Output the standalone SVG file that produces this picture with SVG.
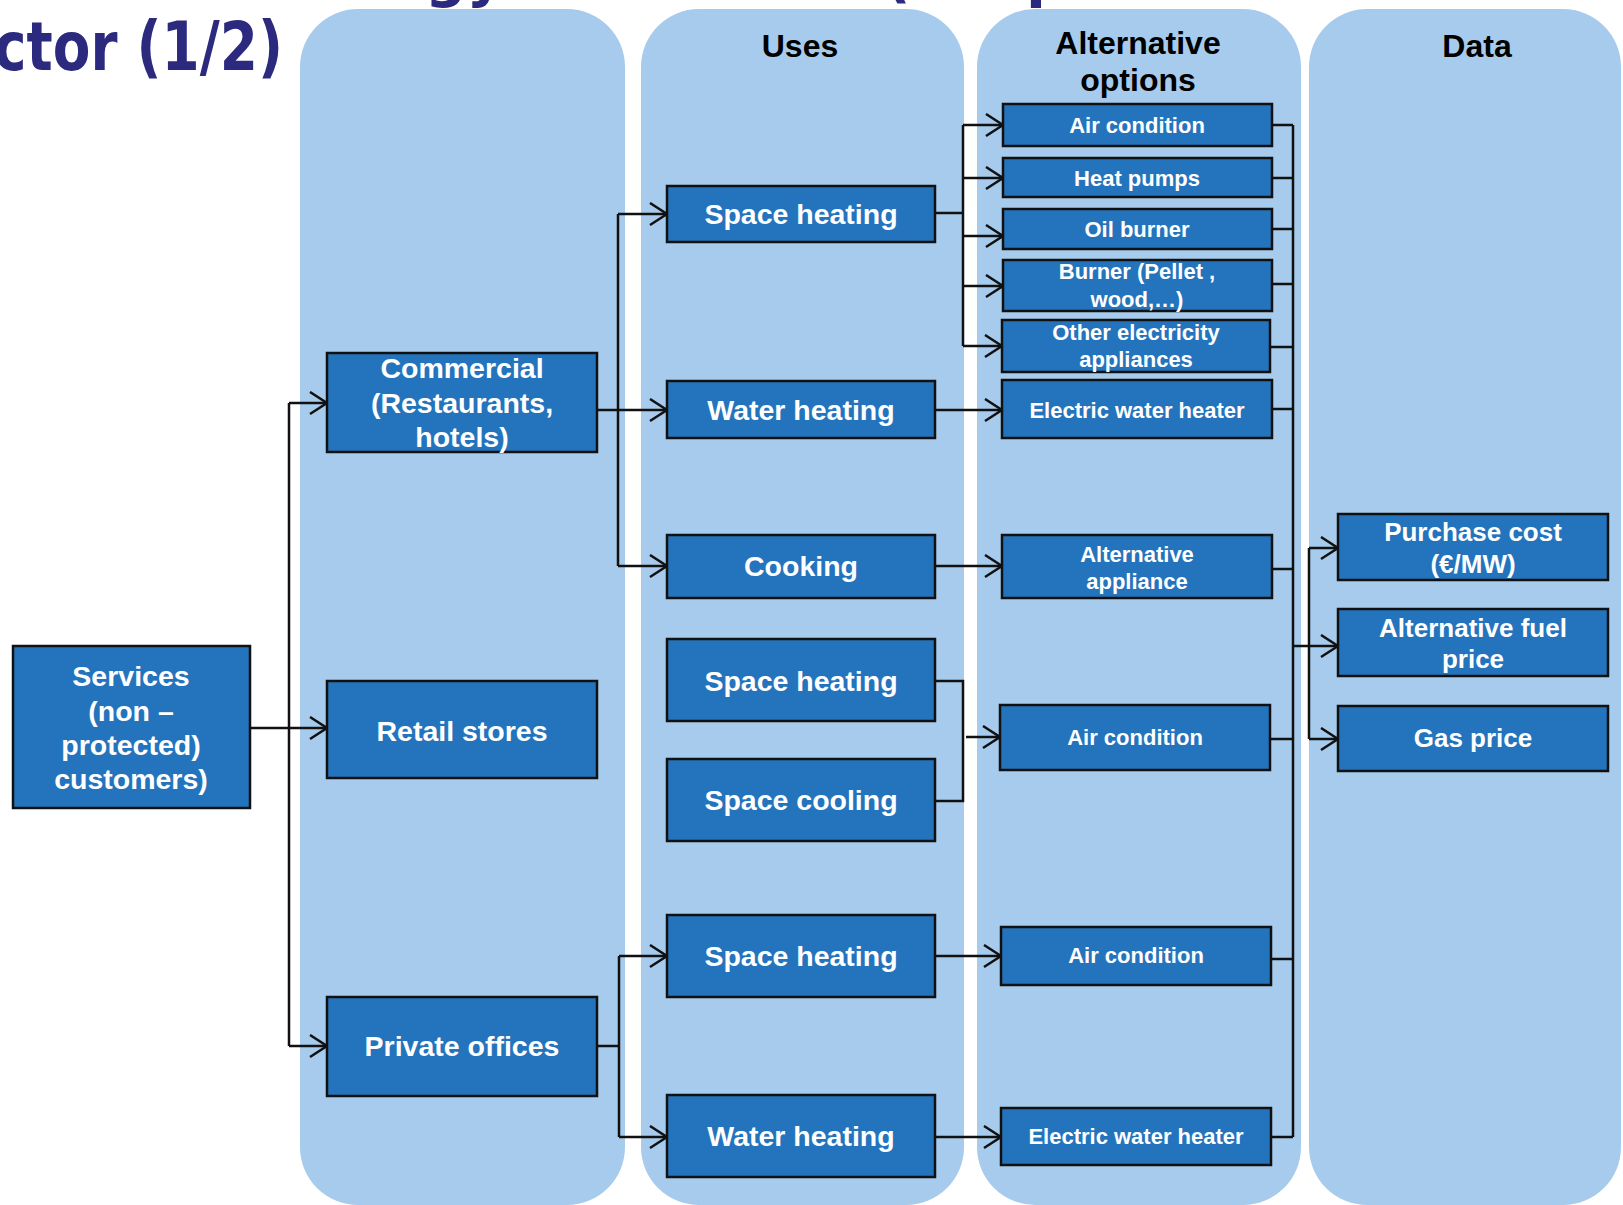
<svg xmlns="http://www.w3.org/2000/svg" width="1623" height="1205" viewBox="0 0 1623 1205">
<defs>
<style>
.col{fill:#A7CBEC}
.box{fill:#2474BD;stroke:#111;stroke-width:2.5}
.t{font-family:"Liberation Sans",Arial,sans-serif;font-weight:bold;fill:#fff;text-anchor:middle}
.l{font-size:28.5px}
.s{font-size:22px}
.d{font-size:26px}
.h{font-family:"Liberation Sans",Arial,sans-serif;font-weight:bold;fill:#000;text-anchor:middle;font-size:32px}
.title{font-family:"DejaVu Sans",Verdana,sans-serif;font-weight:bold;fill:#2B2A7E}
.c{fill:none;stroke:#111;stroke-width:2.5}
.a{fill:none;stroke:#111;stroke-width:2.5;marker-end:url(#arr)}
</style>
<marker id="arr" markerUnits="userSpaceOnUse" markerWidth="22" markerHeight="26" refX="18" refY="12" orient="auto">
<path d="M1,1 L18,12 L1,23" fill="none" stroke="#111" stroke-width="2.5"/>
</marker>
</defs>
<rect width="1623" height="1205" fill="#fff"/>
<g id="title">
<text class="title" transform="translate(-6,70) scale(1,1.16)" x="0" y="0" font-size="58" textLength="289" lengthAdjust="spacingAndGlyphs">ctor (1/2)</text>
<text class="title" x="425" y="-4" font-size="58">gy</text>
<text class="title" x="884" y="-4" font-size="58">(</text>
<text class="title" x="1026" y="-4" font-size="58">p</text>
</g>
<g id="columns">
<rect class="col" x="300" y="9" width="325" height="1196" rx="58"/>
<rect class="col" x="641" y="9" width="323" height="1196" rx="58"/>
<rect class="col" x="977" y="9" width="324" height="1196" rx="58"/>
<rect class="col" x="1309" y="9" width="312" height="1196" rx="58"/>
</g>
<g id="headers">
<text class="h" x="800" y="57">Uses</text>
<text class="h" x="1138" y="54">Alternative</text>
<text class="h" x="1138" y="91">options</text>
<text class="h" x="1477" y="57">Data</text>
</g>
<g id="connectors">
<path class="c" d="M289,403 V1046"/>
<path class="a" d="M250,728 H327"/>
<path class="a" d="M289,403 H327"/>
<path class="a" d="M289,1046 H327"/>
<path class="a" d="M597,410 H667"/>
<path class="c" d="M618,214 V566"/>
<path class="a" d="M618,214 H667"/>
<path class="a" d="M618,566 H667"/>
<path class="c" d="M934,213 H963"/>
<path class="c" d="M963,125 V346"/>
<path class="a" d="M963,125 H1003"/>
<path class="a" d="M963,178 H1003"/>
<path class="a" d="M963,236 H1003"/>
<path class="a" d="M963,286 H1003"/>
<path class="a" d="M963,346 H1002"/>
<path class="a" d="M936,410 H1002"/>
<path class="a" d="M935,566 H1002"/>
<path class="c" d="M935,681 H963 V801 H935"/>
<path class="a" d="M966,737 H1000"/>
<path class="a" d="M935,956 H1001"/>
<path class="a" d="M935,1137 H1001"/>
<path class="c" d="M597,1046 H619"/>
<path class="c" d="M619,956 V1137"/>
<path class="a" d="M619,956 H667"/>
<path class="a" d="M619,1137 H667"/>
<path class="c" d="M1293,125 V1137"/>
<path class="c" d="M1272,125 H1293 M1272,178 H1293 M1272,229 H1293 M1272,284 H1293 M1270,347 H1293 M1272,409 H1293 M1272,569 H1293 M1270,739 H1293 M1271,959 H1293 M1271,1137 H1293"/>
<path class="c" d="M1293,646 H1309 M1309,548 V739"/>
<path class="a" d="M1309,548 H1338"/>
<path class="a" d="M1309,646 H1338"/>
<path class="a" d="M1309,739 H1338"/>
</g>
<g id="n-services"><rect class="box" x="13" y="646" width="237" height="162"/>
<text class="t l" x="131" y="686">Services</text><text class="t l" x="131" y="721">(non –</text><text class="t l" x="131" y="755">protected)</text><text class="t l" x="131" y="789">customers)</text></g>
<g id="n-commercial"><rect class="box" x="327" y="353" width="270" height="99"/>
<text class="t l" x="462" y="378">Commercial</text><text class="t l" x="462" y="413">(Restaurants,</text><text class="t l" x="462" y="447">hotels)</text></g>
<g id="n-retail"><rect class="box" x="327" y="681" width="270" height="97"/>
<text class="t l" x="462" y="741">Retail stores</text></g>
<g id="n-private"><rect class="box" x="327" y="997" width="270" height="99"/>
<text class="t l" x="462" y="1056">Private offices</text></g>
<g id="n-sh1"><rect class="box" x="667" y="186" width="268" height="56"/>
<text class="t l" x="801" y="224">Space heating</text></g>
<g id="n-wh1"><rect class="box" x="667" y="381" width="268" height="57"/>
<text class="t l" x="801" y="420">Water heating</text></g>
<g id="n-cooking"><rect class="box" x="667" y="535" width="268" height="63"/>
<text class="t l" x="801" y="576">Cooking</text></g>
<g id="n-sh2"><rect class="box" x="667" y="639" width="268" height="82"/>
<text class="t l" x="801" y="691">Space heating</text></g>
<g id="n-sc2"><rect class="box" x="667" y="759" width="268" height="82"/>
<text class="t l" x="801" y="810">Space cooling</text></g>
<g id="n-sh3"><rect class="box" x="667" y="915" width="268" height="82"/>
<text class="t l" x="801" y="966">Space heating</text></g>
<g id="n-wh3"><rect class="box" x="667" y="1095" width="268" height="82"/>
<text class="t l" x="801" y="1146">Water heating</text></g>
<g id="n-ac1"><rect class="box" x="1003" y="104" width="269" height="42"/>
<text class="t s" x="1137" y="133">Air condition</text></g>
<g id="n-hp"><rect class="box" x="1003" y="158" width="269" height="39"/>
<text class="t s" x="1137" y="186">Heat pumps</text></g>
<g id="n-oil"><rect class="box" x="1003" y="209" width="269" height="40"/>
<text class="t s" x="1137" y="237">Oil burner</text></g>
<g id="n-burner"><rect class="box" x="1003" y="260" width="269" height="51"/>
<text class="t s" x="1137" y="279">Burner (Pellet ,</text><text class="t s" x="1137" y="307">wood,…)</text></g>
<g id="n-other"><rect class="box" x="1002" y="320" width="268" height="52"/>
<text class="t s" x="1136" y="340">Other electricity</text><text class="t s" x="1136" y="367">appliances</text></g>
<g id="n-ewh1"><rect class="box" x="1002" y="380" width="270" height="58"/>
<text class="t s" x="1137" y="418">Electric water heater</text></g>
<g id="n-altapp"><rect class="box" x="1002" y="535" width="270" height="63"/>
<text class="t s" x="1137" y="562">Alternative</text><text class="t s" x="1137" y="589">appliance</text></g>
<g id="n-ac2"><rect class="box" x="1000" y="705" width="270" height="65"/>
<text class="t s" x="1135" y="745">Air condition</text></g>
<g id="n-ac3"><rect class="box" x="1001" y="927" width="270" height="58"/>
<text class="t s" x="1136" y="963">Air condition</text></g>
<g id="n-ewh3"><rect class="box" x="1001" y="1108" width="270" height="57"/>
<text class="t s" x="1136" y="1144">Electric water heater</text></g>
<g id="n-purchase"><rect class="box" x="1338" y="514" width="270" height="66"/>
<text class="t d" x="1473" y="541">Purchase  cost</text><text class="t d" x="1473" y="573">(€/MW)</text></g>
<g id="n-fuel"><rect class="box" x="1338" y="609" width="270" height="67"/>
<text class="t d" x="1473" y="637">Alternative fuel</text><text class="t d" x="1473" y="668">price</text></g>
<g id="n-gas"><rect class="box" x="1338" y="706" width="270" height="65"/>
<text class="t d" x="1473" y="747">Gas price</text></g>
</svg>
